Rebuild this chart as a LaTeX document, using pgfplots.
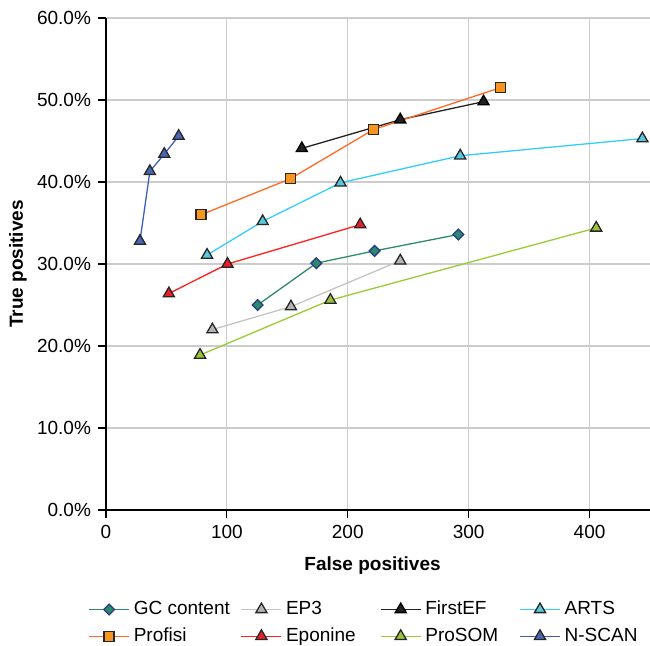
\documentclass[border=0pt]{standalone}
\usepackage{fontspec}
\setmainfont{Liberation Sans}
\usepackage{pgfplots}
\pgfplotsset{compat=1.18}
\usetikzlibrary{calc}

\definecolor{gcline}{HTML}{2E8B6A}
\definecolor{gcfill}{HTML}{2A8A68}
\definecolor{gcedge}{HTML}{2B3A86}
\definecolor{epline}{HTML}{C4C4C4}
\definecolor{epfill}{HTML}{B4B4B4}
\definecolor{feline}{HTML}{222222}
\definecolor{arline}{HTML}{33CCFF}
\definecolor{arfill}{HTML}{5CC6DC}
\definecolor{prline}{HTML}{FF6A26}
\definecolor{prfill}{HTML}{F7951E}
\definecolor{poline}{HTML}{FF2020}
\definecolor{pofill}{HTML}{E81E28}
\definecolor{psline}{HTML}{99CC33}
\definecolor{psfill}{HTML}{9AC23C}
\definecolor{nsline}{HTML}{4060B8}
\definecolor{nsfill}{HTML}{4A66B2}

% fixed legend cell widths (first column is wider, as in the reference)
\newcommand{\wideentry}[1]{\makebox[51.5pt][l]{#1}}
\newcommand{\entry}[1]{\makebox[45pt][l]{#1}}

\begin{document}
\begin{tikzpicture}
\begin{axis}[
  scale only axis,
  width=272pt, height=246pt,
  xmin=0, xmax=450, ymin=0, ymax=60,
  xtick={0,100,...,400},
  ytick={0,10,...,60},
  axis x line*=bottom, axis y line*=left,
  axis line style={black, line width=0.7pt, -},
  tick align=outside, major tick length=4pt,
  tick style={black, line width=0.6pt},
  grid=major, grid style={gray!40, line width=0.6pt},
  /pgf/number format/assume math mode=true,
  yticklabel={\pgfmathprintnumber[fixed,fixed zerofill,precision=1]{\tick}\%},
  tick label style={font=\fontsize{9.5}{11}\selectfont},
  label style={font=\fontsize{9.5}{11}\selectfont\bfseries},
  xlabel={False positives},
  ylabel={True positives},
  xlabel style={at={(axis description cs:0.49,-0.112)}, anchor=center},
  ylabel style={at={(axis description cs:-0.162,0.5)}, anchor=center},
  legend columns=4,
  legend cell align=left,
  legend style={at={(axis description cs:-0.044,-0.168)}, anchor=north west,
    draw=none, font=\fontsize{9.5}{11}\selectfont,
    /tikz/every even column/.append style={column sep=0pt},
    row sep=1pt},
  legend image code/.code={
    \draw[#1] (0pt,0pt) -- (20pt,0pt);
    \draw[#1, only marks] plot coordinates {(10pt,0pt)};
  },
  every axis plot/.append style={line width=0.65pt},
]

% GC content
\addplot[gcline, mark=square*, mark size=1.9pt,
  mark options={fill=gcfill, draw=gcedge, rotate=45}] coordinates {
  (125.4,25.0) (174,30.1) (222.2,31.6) (291.5,33.6)
};
\addlegendentry{\wideentry{GC content}}

% EP3
\addplot[epline, mark=triangle*, mark size=3.2pt,
  mark options={fill=epfill, draw=black!85}] coordinates {
  (88,22.0) (153,24.8) (243.4,30.4)
};
\addlegendentry{\entry{EP3}}

% FirstEF
\addplot[feline, mark=triangle*, mark size=3.2pt,
  mark options={fill=feline, draw=black}] coordinates {
  (162,44.1) (243.4,47.6) (312.3,49.8)
};
\addlegendentry{\entry{FirstEF}}

% ARTS
\addplot[arline, mark=triangle*, mark size=3.2pt,
  mark options={fill=arfill, draw=black!85}] coordinates {
  (83.6,31.1) (129.6,35.2) (194,39.9) (293,43.2) (443.7,45.3)
};
\addlegendentry{\entry{ARTS}}

% Profisi
\addplot[prline, mark=square*, mark size=2.5pt,
  mark options={fill=prfill, draw=black!85}] coordinates {
  (78.6,36.0) (152.5,40.4) (221.3,46.4) (326.2,51.5)
};
\addlegendentry{\wideentry{Profisi}}

% Eponine
\addplot[poline, mark=triangle*, mark size=3.2pt,
  mark options={fill=pofill, draw=black!85}] coordinates {
  (52,26.4) (100.5,30.0) (210.3,34.8)
};
\addlegendentry{\entry{Eponine}}

% ProSOM
\addplot[psline, mark=triangle*, mark size=3.2pt,
  mark options={fill=psfill, draw=black!85}] coordinates {
  (77.8,18.9) (185.6,25.6) (405.5,34.4)
};
\addlegendentry{\entry{ProSOM}}

% N-SCAN
\addplot[nsline, mark=triangle*, mark size=3.2pt,
  mark options={fill=nsfill, draw=black!85}] coordinates {
  (28.1,32.8) (36.3,41.3) (48.2,43.4) (60.1,45.6)
};
\addlegendentry{\entry{N-SCAN}}

\end{axis}
\pgfresetboundingbox
\path ($(current axis.south west)+(-53pt,-67.5pt)$) rectangle ($(current axis.north east)+(0pt,9pt)$);
\end{tikzpicture}
\end{document}
